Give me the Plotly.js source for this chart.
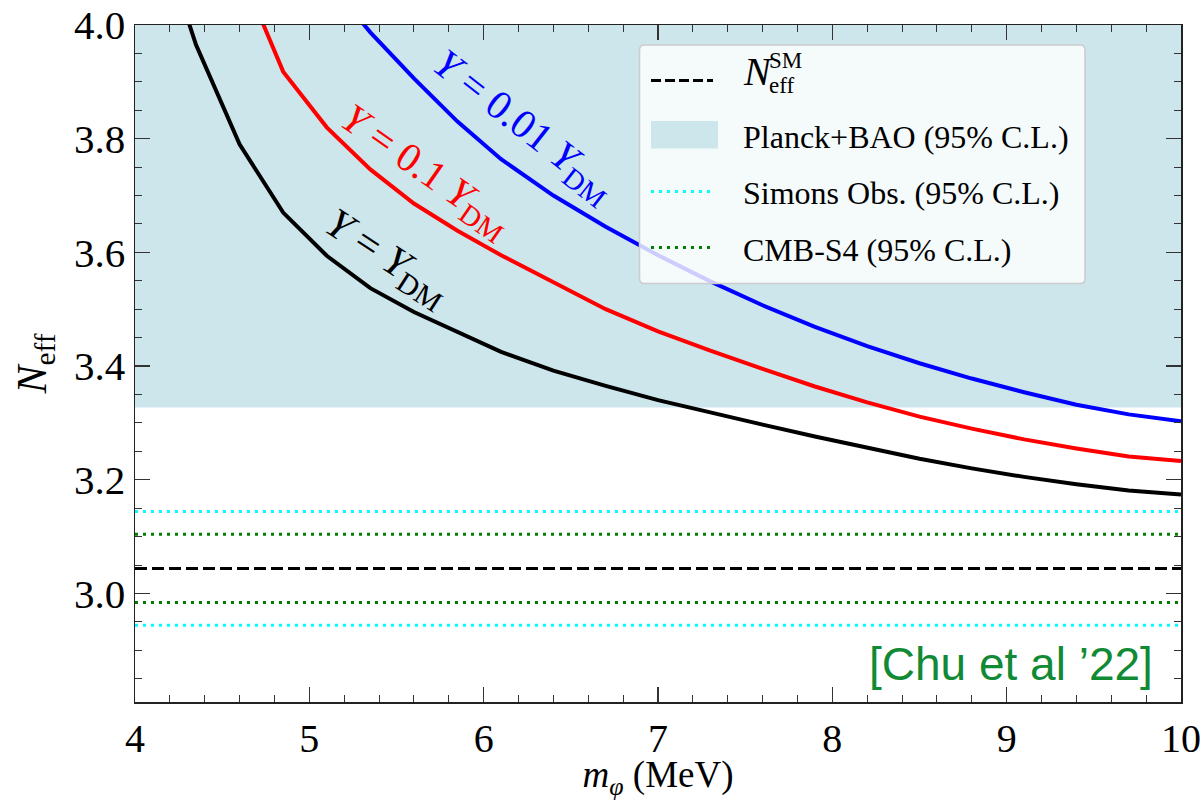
<!DOCTYPE html>
<html>
<head>
<meta charset="utf-8">
<script src="https://cdn.plot.ly/plotly-3.0.1.min.js"></script>
<style>
  html, body { margin: 0; padding: 0; background: #ffffff; }
  #chart { width: 1204px; height: 801px; }
</style>
</head>
<body>
<div id="chart"></div>
<script>
// ---------------- data ----------------
// Y = Y_DM
const massBlack = [4.1, 4.35, 4.6, 4.85, 5.1, 5.35, 5.6, 5.85, 6.1, 6.4, 6.7, 7.0, 7.3, 7.6, 7.9, 8.2, 8.5, 8.8, 9.1, 9.4, 9.7, 10.0];
const neffBlack = [4.20, 3.965, 3.79, 3.67, 3.594, 3.537, 3.495, 3.460, 3.425, 3.392, 3.365, 3.340, 3.318, 3.297, 3.276, 3.256, 3.237, 3.220, 3.205, 3.192, 3.181, 3.174];
// Y = 0.1 Y_DM
const massRed = [4.6, 4.85, 5.1, 5.35, 5.6, 5.85, 6.1, 6.4, 6.7, 7.0, 7.3, 7.6, 7.9, 8.2, 8.5, 8.8, 9.1, 9.4, 9.7, 10.0];
const neffRed = [4.10, 3.918, 3.820, 3.746, 3.686, 3.638, 3.595, 3.547, 3.500, 3.461, 3.427, 3.395, 3.364, 3.336, 3.311, 3.290, 3.271, 3.255, 3.241, 3.233];
// Y = 0.01 Y_DM
const massBlue = [5.1, 5.35, 5.6, 5.85, 6.1, 6.4, 6.7, 7.0, 7.3, 7.6, 7.9, 8.2, 8.5, 8.8, 9.1, 9.4, 9.7, 10.0];
const neffBlue = [4.08, 3.987, 3.906, 3.830, 3.764, 3.700, 3.645, 3.595, 3.549, 3.507, 3.469, 3.435, 3.405, 3.378, 3.354, 3.332, 3.315, 3.303];

const massRange = [4, 10];
const neffSM = 3.044;
const planckBand = [3.327, 4.0];
const simonsBand = [2.944, 3.144];
const cmbs4Band = [2.984, 3.104];

const curveLabels = ["<i>Y</i> = <i>Y</i><sub>DM</sub>", "<i>Y</i> = 0.1 <i>Y</i><sub>DM</sub>", "<i>Y</i> = 0.01 <i>Y</i><sub>DM</sub>"];
const legendLabels = ["Planck+BAO (95% C.L.)", "Simons Obs. (95% C.L.)", "CMB-S4 (95% C.L.)"];
const xTicks = [4, 5, 6, 7, 8, 9, 10];
const yTicks = [3.0, 3.2, 3.4, 3.6, 3.8, 4.0];

// ---------------- layout helpers ----------------
const W = 1204, H = 801;
const M = {l: 135, r: 23, t: 25, b: 99};
const PW = W - M.l - M.r, PH = H - M.t - M.b;
const px = x => (x - M.l) / PW;
const py = y => 1 - (y - M.t) / PH;

const SERIF = "Liberation Serif, Times New Roman, serif";
const BAND = "rgb(205,230,236)";

const flat = (v) => [v, v];

const traces = [
  { x: [massRange[0], massRange[1], massRange[1], massRange[0]],
    y: [planckBand[0], planckBand[0], planckBand[1], planckBand[1]],
    mode: 'lines', fill: 'toself', fillcolor: BAND, line: {width: 0}, hoverinfo: 'skip', name: legendLabels[0] },
  { x: massRange, y: flat(simonsBand[1]), mode: 'lines', line: {color: '#00ffff', width: 3, dash: '3px,5px'}, name: legendLabels[1] },
  { x: massRange, y: flat(simonsBand[0]), mode: 'lines', line: {color: '#00ffff', width: 3, dash: '3px,5px'}, name: legendLabels[1] },
  { x: massRange, y: flat(cmbs4Band[1]), mode: 'lines', line: {color: '#008000', width: 3, dash: '3px,5px'}, name: legendLabels[2] },
  { x: massRange, y: flat(cmbs4Band[0]), mode: 'lines', line: {color: '#008000', width: 3, dash: '3px,5px'}, name: legendLabels[2] },
  { x: massRange, y: flat(neffSM), mode: 'lines', line: {color: '#000000', width: 3, dash: '12px,5px'}, name: 'N_eff^SM' },
  { x: massBlack, y: neffBlack, mode: 'lines', line: {color: '#000000', width: 4}, name: 'Y = Y_DM' },
  { x: massRed, y: neffRed, mode: 'lines', line: {color: '#ff0000', width: 4}, name: 'Y = 0.1 Y_DM' },
  { x: massBlue, y: neffBlue, mode: 'lines', line: {color: '#0000ff', width: 4}, name: 'Y = 0.01 Y_DM' }
];

// legend box (custom, matplotlib style)
const bx0 = px(639.5), bx1 = px(1085), by1 = py(45), by0 = py(283.5);
const rx = 5 / PW, ry = 5 / PH;
const boxPath = `M${bx0+rx},${by1} L${bx1-rx},${by1} Q${bx1},${by1} ${bx1},${by1-ry} L${bx1},${by0+ry} Q${bx1},${by0} ${bx1-rx},${by0} L${bx0+rx},${by0} Q${bx0},${by0} ${bx0},${by0+ry} L${bx0},${by1-ry} Q${bx0},${by1} ${bx0+rx},${by1} Z`;

const symX0 = px(651), symX1 = px(713);
const shapes = [
  { type: 'path', xref: 'paper', yref: 'paper', path: boxPath, layer: 'above',
    fillcolor: 'rgba(255,255,255,0.8)', line: {color: '#cccccc', width: 1.5} },
  { type: 'line', xref: 'paper', yref: 'paper', x0: symX0, x1: symX1, y0: py(80.5), y1: py(80.5), layer: 'above',
    line: {color: '#000000', width: 3, dash: '10px,4px'} },
  { type: 'rect', xref: 'paper', yref: 'paper', x0: symX0, x1: px(718), y0: py(148.5), y1: py(121), layer: 'above',
    fillcolor: BAND, line: {width: 0} },
  { type: 'line', xref: 'paper', yref: 'paper', x0: symX0, x1: symX1, y0: py(191.5), y1: py(191.5), layer: 'above',
    line: {color: '#00ffff', width: 3, dash: '3px,5px'} },
  { type: 'line', xref: 'paper', yref: 'paper', x0: symX0, x1: symX1, y0: py(247.5), y1: py(247.5), layer: 'above',
    line: {color: '#008000', width: 3, dash: '3px,5px'} }
];

const txtX = px(741);
const annotations = [
  { xref: 'paper', yref: 'paper', x: txtX, y: py(72), xanchor: 'left', yanchor: 'middle', showarrow: false,
    text: '<i>N</i>', font: {family: SERIF, size: 40, color: '#000'} },
  { xref: 'paper', yref: 'paper', x: px(767), y: py(61), xanchor: 'left', yanchor: 'middle', showarrow: false,
    text: 'SM', font: {family: SERIF, size: 23, color: '#000'} },
  { xref: 'paper', yref: 'paper', x: px(767), y: py(86), xanchor: 'left', yanchor: 'middle', showarrow: false,
    text: 'eff', font: {family: SERIF, size: 23, color: '#000'} },
  { xref: 'paper', yref: 'paper', x: txtX, y: py(137), xanchor: 'left', yanchor: 'middle', showarrow: false,
    text: legendLabels[0], font: {family: SERIF, size: 32, color: '#000'} },
  { xref: 'paper', yref: 'paper', x: txtX, y: py(193), xanchor: 'left', yanchor: 'middle', showarrow: false,
    text: legendLabels[1], font: {family: SERIF, size: 32, color: '#000'} },
  { xref: 'paper', yref: 'paper', x: txtX, y: py(249.5), xanchor: 'left', yanchor: 'middle', showarrow: false,
    text: legendLabels[2], font: {family: SERIF, size: 32, color: '#000'} },
  // curve labels
  { x: 5.445, y: 3.588, textangle: 33, showarrow: false, text: curveLabels[0],
    font: {family: SERIF, size: 42, color: '#000000'} },
  { x: 5.665, y: 3.742, textangle: 35, showarrow: false, text: curveLabels[1],
    font: {family: SERIF, size: 41, color: '#ff0000'} },
  { x: 6.225, y: 3.820, textangle: 38, showarrow: false, text: curveLabels[2],
    font: {family: SERIF, size: 41, color: '#0000ff'} },
  // credit
  { xref: 'paper', yref: 'paper', x: px(1011), y: py(664), xanchor: 'center', yanchor: 'middle', showarrow: false,
    text: '[Chu et al ’22]', font: {family: 'Liberation Sans, Arial, sans-serif', size: 46, color: '#108a34'} }
];

const axisCommon = {
  showgrid: false, zeroline: false, showline: true, linecolor: '#222222', linewidth: 1.5,
  mirror: 'allticks', ticks: 'inside', ticklen: 15, tickwidth: 1.2, tickcolor: '#333333',
  tickfont: {family: SERIF, size: 41, color: '#000'}
};

const layout = {
  width: W, height: H,
  margin: M,
  paper_bgcolor: '#ffffff', plot_bgcolor: '#ffffff',
  showlegend: false,
  xaxis: Object.assign({}, axisCommon, {
    range: [4, 10], tickmode: 'array', tickvals: xTicks, ticktext: xTicks.map(String),
    tickfont: {family: SERIF, size: 40, color: '#000'},
    minor: {dtick: 0.2, tick0: 4, ticks: 'inside', ticklen: 7, tickwidth: 1, tickcolor: '#333333'},
    title: {text: '<i>m</i><sub><i>φ</i></sub> (MeV)', font: {family: SERIF, size: 37, color: '#000'}, standoff: 12}
  }),
  yaxis: Object.assign({}, axisCommon, {
    range: [2.809, 4.0], tickmode: 'array', tickvals: yTicks, ticktext: yTicks.map(v => v.toFixed(1)),
    minor: {dtick: 0.05, tick0: 3.0, ticks: 'inside', ticklen: 7, tickwidth: 1, tickcolor: '#333333'},
    title: {text: '<i>N</i><sub>eff</sub>', font: {family: SERIF, size: 42, color: '#000'}, standoff: 14}
  }),
  shapes: shapes,
  annotations: annotations
};

Plotly.newPlot('chart', traces, layout, {staticPlot: true, displayModeBar: false});
</script>
</body>
</html>
